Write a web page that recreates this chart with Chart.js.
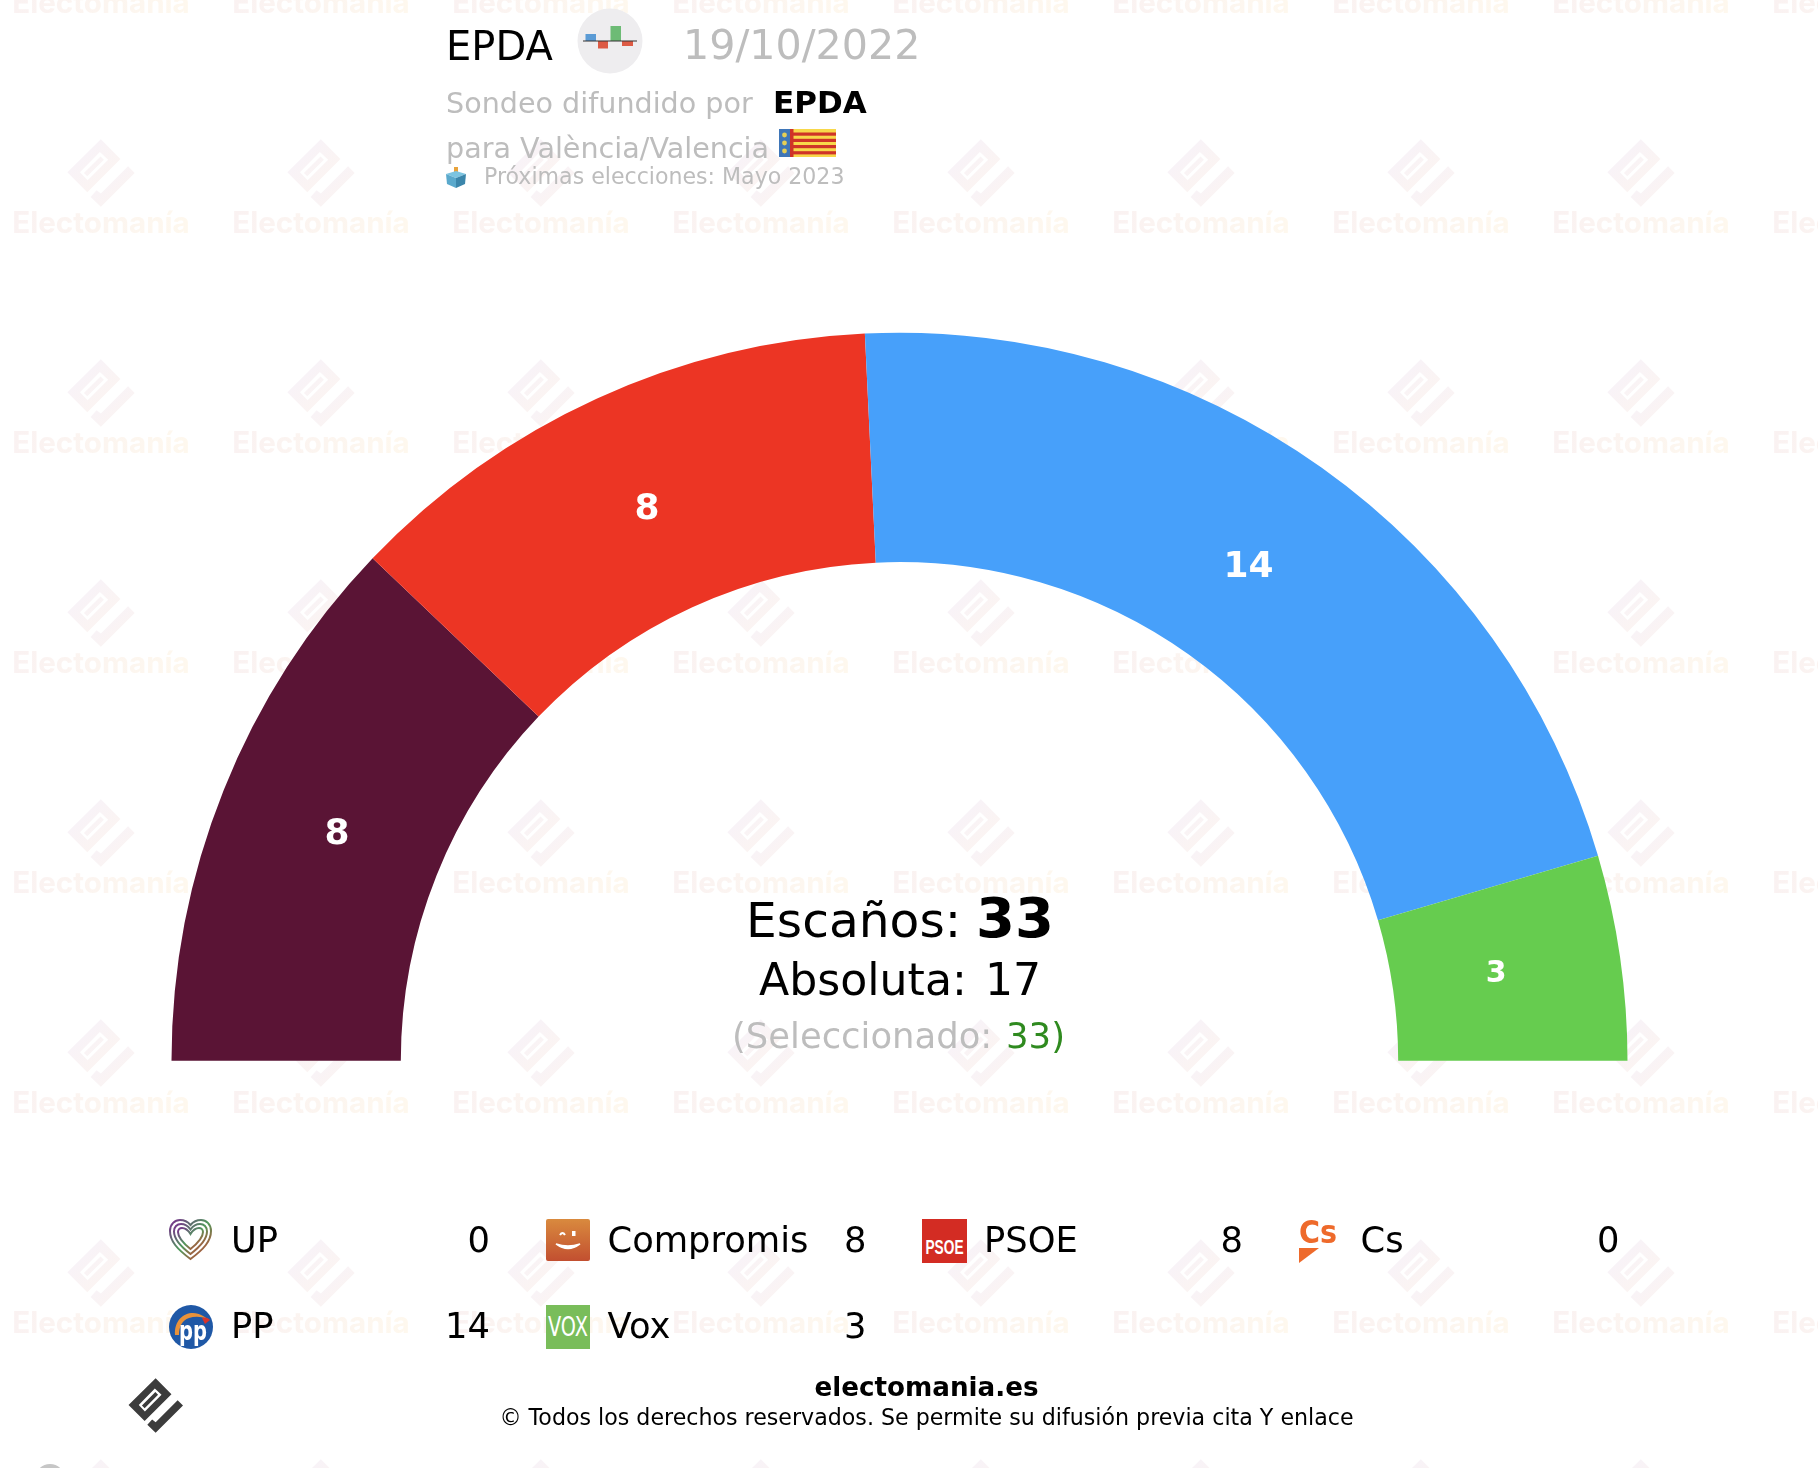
<!DOCTYPE html>
<html lang="es">
<head>
<meta charset="utf-8">
<title>EPDA 19/10/2022</title>
<script src="https://cdn.jsdelivr.net/npm/chart.js@4/dist/chart.umd.min.js"></script>
<style>
html, body { margin: 0; padding: 0; background: #fff; }
#page { position: relative; width: 1818px; height: 1468px; overflow: hidden; font-family: "DejaVu Sans", Verdana, sans-serif; color: #000; }
#marca, #seats { position: absolute; left: 0; top: 0; }
.t { position: absolute; left: var(--x); top: calc(var(--b) - .846 * var(--fs)); font-size: var(--fs); line-height: 1; white-space: pre; }
.r { left: auto; right: calc(1818px - var(--x)); }
.c { left: var(--x); transform: translateX(-50%); }
.gris { color: #bdbdbd; }
.ico { position: absolute; }
</style>
</head>
<body>
<div id="page">
  <svg id="marca" width="1818" height="1468">
    <defs>
      <linearGradient id="gradLogo" x1="0" y1="0" x2="1" y2="1">
        <stop offset="0" stop-color="#f6f2fb"/><stop offset="1" stop-color="#fdf5ef"/>
      </linearGradient>
      <linearGradient id="gradTexto" x1="0" y1="0" x2="1" y2="0">
        <stop offset="0" stop-color="#faf2f2"/><stop offset="1" stop-color="#fef8ee"/>
      </linearGradient>
      <symbol id="logo" viewBox="200 58 205 204">
        <path fill-rule="evenodd" d="M303,58 L362,118 L262,218 L202,158 Z M300,97 L240,158 L263,182 L325,120 Z M302,110 L312,120 L262,170 L252,160 Z"/>
        <path d="M385,140 L405,160 L303,262 L272,232 L290,212 L303,222 Z"/>
      </symbol>
      <pattern id="mosaico" patternUnits="userSpaceOnUse" x="0" y="20" width="220" height="220">
        <use href="#logo" x="66.7" y="119" width="68" height="68" fill="url(#gradLogo)"/>
        <text x="101" y="212.7" text-anchor="middle" font-family="Inter" font-weight="700" font-size="29.6" fill="url(#gradTexto)">Electomanía</text>
      </pattern>
    </defs>
    <rect width="1818" height="1468" fill="url(#mosaico)"/>
    <circle cx="50" cy="1479" r="15" fill="#c6c6c6"/>
  </svg>

  <canvas id="seats" width="1818" height="1468"></canvas>

  <!-- cabecera -->
  <div class="t" style="--x:446px;--b:60px;--fs:40px">EPDA</div>
  <svg class="ico" style="left:577px;top:8px" width="66" height="66" viewBox="0 0 66 66">
    <circle cx="33" cy="33" r="32.5" fill="#eeedef"/>
    <rect x="8.5" y="26" width="10.5" height="7" fill="#5b9bd5"/>
    <rect x="21" y="33" width="10" height="7.5" fill="#dd5a44"/>
    <rect x="33.5" y="18" width="10.5" height="15" fill="#6dbb75"/>
    <rect x="45" y="33" width="11" height="5" fill="#dd5a44"/>
    <rect x="6" y="32.5" width="54" height="1" fill="#333"/>
  </svg>
  <div class="t gris" style="--x:683px;--b:60px;--fs:41.2px">19/10/2022</div>
  <div class="t gris" style="--x:446px;--b:113px;--fs:28.6px">Sondeo difundido por</div>
  <div class="t" style="--x:773px;--b:113px;--fs:31px;font-weight:700">EPDA</div>
  <div class="t gris" style="--x:446px;--b:158px;--fs:28.6px">para València/Valencia</div>
  <svg class="ico" style="left:779px;top:129px" width="57" height="28" viewBox="0 0 57 28">
    <rect width="57" height="28" fill="#f8d84a"/>
    <rect x="14" y="3.5" width="43" height="3.2" fill="#cf3427"/>
    <rect x="14" y="9.8" width="43" height="3.2" fill="#cf3427"/>
    <rect x="14" y="16" width="43" height="3.2" fill="#cf3427"/>
    <rect x="14" y="22.2" width="43" height="3.2" fill="#cf3427"/>
    <rect width="11" height="28" fill="#3f76b8"/>
    <rect x="11" width="3.5" height="28" fill="#cf3427"/>
    <circle cx="5.5" cy="6" r="2.4" fill="#e6cf55"/><circle cx="5.5" cy="14" r="2.4" fill="#e6cf55"/><circle cx="5.5" cy="22" r="2.4" fill="#e6cf55"/>
  </svg>
  <svg class="ico" style="left:446px;top:167px" width="20" height="21" viewBox="0 0 20 21">
    <rect x="8" y="0" width="4" height="7" fill="#e8a33c"/>
    <path d="M0,7 L10,4 L20,7 L10,11 Z" fill="#7cc4e0"/>
    <path d="M0,7 L10,11 L10,21 L1,17 Z" fill="#5aa9cc"/>
    <path d="M20,7 L10,11 L10,21 L19,17 Z" fill="#3b86ab"/>
  </svg>
  <div class="t gris" style="--x:484px;--b:184px;--fs:22.1px">Próximas elecciones: Mayo 2023</div>

  <!-- centro -->
  <div class="t" style="--x:746px;--b:937px;--fs:48.7px">Escaños:</div>
  <div class="t" style="--x:976px;--b:937px;--fs:56px;font-weight:700">33</div>
  <div class="t" style="--x:759px;--b:995px;--fs:44.2px">Absoluta:</div>
  <div class="t" style="--x:985px;--b:995px;--fs:44.2px">17</div>
  <div class="t gris" style="--x:732px;--b:1048px;--fs:35.4px">(Seleccionado:</div>
  <div class="t" style="--x:1006px;--b:1048px;--fs:35.5px;color:#2f8a1f">33)</div>

  <div id="legend"></div>

  <!-- pie -->
  <svg class="ico" style="left:128px;top:1378px" width="55" height="55"><use href="#logo" width="55" height="55" fill="#3c3c3c"/></svg>
  <div class="t c" style="--x:926.5px;--b:1396px;--fs:26.2px;font-weight:700">electomania.es</div>
  <div class="t c" style="--x:926.5px;--b:1425px;--fs:22.15px">© Todos los derechos reservados. Se permite su difusión previa cita Y enlace</div>
</div>

<script>
const partyNames = ['UP', 'Compromis', 'PSOE', 'Cs', 'PP', 'Vox'];
const partySeats = [0, 8, 8, 0, 14, 3];
const partyColors = ['#7b2d8b', '#5a1435', '#ec3524', '#ee6a2b', '#47a0fa', '#66cc4f'];

const partyIcons = {
    UP: `<svg width="43" height="42" viewBox="0 0 43 42" fill="none">
        <defs><linearGradient id="gradUp" x1="0" y1="0" x2="1" y2="1"><stop offset="0" stop-color="#7a2f8f"/><stop offset=".5" stop-color="#4f9a5b"/><stop offset="1" stop-color="#e0352c"/></linearGradient></defs>
        <g stroke="url(#gradUp)" stroke-width="2">
        <path d="M21.5 40 C8 30 1 22 1 12 C1 5 6 1 11 1 C15 1 19 3 21.5 6 C24 3 28 1 32 1 C37 1 42 5 42 12 C42 22 35 30 21.5 40 Z"/>
        <path d="M21.5 35 C11 27 5 20 5 12.5 C5 8 8 5 12 5 C15.5 5 19 7 21.5 10.5 C24 7 27.5 5 31 5 C35 5 38 8 38 12.5 C38 20 32 27 21.5 35 Z"/>
        <path d="M21.5 30 C14 24 9 19 9 13 C9 10.5 11 9 13 9 C16 9 19 11 21.5 15 C24 11 27 9 30 9 C32 9 34 10.5 34 13 C34 19 29 24 21.5 30 Z"/></g></svg>`,
    Compromis: `<svg width="44" height="42" viewBox="0 0 44 42">
        <defs><linearGradient id="gradCo" x1="0" y1="0" x2="0" y2="1"><stop offset="0" stop-color="#d98a3e"/><stop offset="1" stop-color="#c24f30"/></linearGradient></defs>
        <rect width="44" height="42" rx="2" fill="url(#gradCo)"/>
        <path d="M10 25 Q22 34 34 25 Q22 29 10 25 Z" fill="#fff" stroke="#fff" stroke-width="1.5"/>
        <rect x="26" y="12" width="3.5" height="5" fill="#fff"/><path d="M14 16 Q16.5 12 19 16" stroke="#fff" stroke-width="2" fill="none"/></svg>`,
    PSOE: `<svg width="45" height="44" viewBox="0 0 45 44">
        <rect width="45" height="44" fill="#d32c23"/>
        <text x="22.5" y="35" text-anchor="middle" font-family="Liberation Sans Narrow, Liberation Sans" font-weight="700" font-size="21" textLength="38" lengthAdjust="spacingAndGlyphs" fill="#fff">PSOE</text></svg>`,
    Cs: `<svg width="39" height="44" viewBox="0 0 39 44">
        <text x="0" y="24" font-family="DejaVu Sans" font-weight="700" font-size="32" textLength="38" lengthAdjust="spacingAndGlyphs" fill="#ee6a2b">Cs</text>
        <path d="M0 29 L20 29 L0 44 Z" fill="#ee6a2b"/></svg>`,
    PP: `<svg width="44" height="44" viewBox="0 0 44 44">
        <circle cx="22" cy="22" r="22" fill="#1f58a6"/>
        <path d="M6 30 C5 16 14 8 24 8 C31 8 36 12 40 15 C33 11 26 11 20 13 C13 15 10 22 10 30 Z" fill="#e8923a"/>
        <path d="M33 13 C37 12 39 13 41 15 L36 19 Z" fill="#d9342a"/>
        <text x="24" y="35" text-anchor="middle" font-family="DejaVu Sans" font-weight="700" font-size="26" textLength="28" lengthAdjust="spacingAndGlyphs" fill="#fff">pp</text></svg>`,
    Vox: `<svg width="44" height="44" viewBox="0 0 44 44">
        <rect width="44" height="44" fill="#79bd5a"/>
        <text x="22" y="31" text-anchor="middle" font-family="DejaVu Sans" font-size="27" textLength="40" lengthAdjust="spacingAndGlyphs" fill="#fff">VOX</text></svg>`
};

// etiquetas blancas dentro de cada sector, algo por debajo del radio medio
const sliceLabels = {
    id: 'sliceLabels',
    afterDatasetsDraw(chart) {
        const ctx = chart.ctx;
        chart.getDatasetMeta(0).data.forEach((arc, i) => {
            const value = partySeats[i];
            if (!value) {
                return;
            }
            const pos = arc.tooltipPosition();
            const dx = pos.x - arc.x;
            const dy = pos.y - arc.y;
            const k = 1 - 9 / Math.hypot(dx, dy);
            ctx.save();
            ctx.fillStyle = '#fff';
            ctx.font = `700 ${value < 5 ? 30 : 36}px "DejaVu Sans"`;
            ctx.textAlign = 'center';
            ctx.textBaseline = 'middle';
            ctx.fillText(String(value), arc.x + dx * k - 1.5, arc.y + dy * k - 1);
            ctx.restore();
        });
    }
};

new Chart(document.getElementById('seats'), {
    type: 'doughnut',
    data: {
        labels: partyNames,
        datasets: [{
            data: partySeats,
            backgroundColor: partyColors,
            borderWidth: 0
        }]
    },
    options: {
        responsive: false,
        animation: false,
        devicePixelRatio: 1,
        rotation: -90,
        circumference: 180,
        cutout: '68.5%',
        layout: { padding: { left: 171.5, right: 190.5, top: 332.5, bottom: 407 } },
        plugins: {
            legend: { display: false },
            tooltip: { enabled: false }
        }
    },
    plugins: [sliceLabels]
});

function buildLegend() {
    const legend = document.getElementById('legend');
    let html = '';
    partyNames.forEach((name, i) => {
        const col = i % 4;
        const row = Math.floor(i / 4);
        const left = 169 + col * 376.5;
        const base = 1252 + row * 86;
        html += `<div class="ico" style="left:${left}px;top:${base - 33}px">${partyIcons[name]}</div>`;
        html += `<div class="t" style="--x:${left + 62}px;--b:${base}px;--fs:35.3px">${name}</div>`;
        html += `<div class="t r" style="--x:${left + 321}px;--b:${base}px;--fs:35.3px">${partySeats[i]}</div>`;
    });
    legend.innerHTML = html;
}

buildLegend();
</script>
</body>
</html>
